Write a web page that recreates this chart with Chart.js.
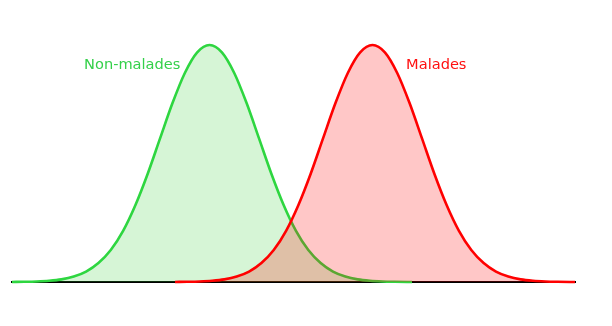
<!DOCTYPE html>
<html lang="fr">
<head>
<meta charset="utf-8">
<title>Non-malades / Malades</title>
<script src="https://cdn.jsdelivr.net/npm/chart.js"></script>
<style>
    html, body { margin: 0; padding: 0; background: #ffffff; }
    #wrap { width: 612px; height: 326px; }
</style>
</head>
<body>
<div id="wrap"><canvas id="courbes" width="612" height="326"></canvas></div>
<script>
// --- Données (échelle x arbitraire, hauteur relative au pic) ---
const seriesNames = ['Non-malades', 'Malades'];

const nonMaladesX = [0, 2.5, 5, 7.5, 10, 12.5, 15, 17.5, 20, 22.5, 25, 27.5, 30, 32.5, 35, 37.5,
    40, 42.5, 45, 47.5, 50, 52.5, 55, 57.5, 60, 62.5, 65, 67.5, 70, 72.5, 75, 77.5, 80, 81];
const nonMaladesY = [0.0003, 0.0009, 0.0022, 0.0051, 0.011, 0.023, 0.044, 0.080, 0.135, 0.216,
    0.325, 0.458, 0.607, 0.755, 0.882, 0.969, 1.0, 0.969, 0.882, 0.755, 0.607, 0.458, 0.325,
    0.216, 0.135, 0.080, 0.044, 0.023, 0.011, 0.0051, 0.0022, 0.0009, 0.0003, 0.0002];

const maladesX = [33, 35.5, 38, 40.5, 43, 45.5, 48, 50.5, 53, 55.5, 58, 60.5, 63, 65.5, 68, 70.5,
    73, 75.5, 78, 80.5, 83, 85.5, 88, 90.5, 93, 95.5, 98, 100.5, 103, 105.5, 108, 110.5, 113, 114];
const maladesY = [0.0003, 0.0009, 0.0022, 0.0051, 0.011, 0.023, 0.044, 0.080, 0.135, 0.216,
    0.325, 0.458, 0.607, 0.755, 0.882, 0.969, 1.0, 0.969, 0.882, 0.755, 0.607, 0.458, 0.325,
    0.216, 0.135, 0.080, 0.044, 0.023, 0.011, 0.0051, 0.0022, 0.0009, 0.0003, 0.0002];

// bornes de l'axe horizontal
const xMin = 0;
const xMax = 114;

function toPoints(xs, ys) {
    return xs.map((x, i) => ({ x: x, y: ys[i] }));
}

// Étiquettes écrites à côté de chaque courbe (ancrées en coordonnées de données)
const curveLabels = {
    id: 'curveLabels',
    afterDatasetsDraw(chart) {
        const ctx = chart.ctx;
        const xs = chart.scales.x;
        const ys = chart.scales.y;
        ctx.save();
        ctx.font = '14.6px "DejaVu Sans", sans-serif';
        ctx.textBaseline = 'middle';

        ctx.fillStyle = '#34d04a';
        ctx.textAlign = 'right';
        ctx.fillText(seriesNames[0], xs.getPixelForValue(34.1), ys.getPixelForValue(0.914));

        ctx.fillStyle = '#ff1010';
        ctx.textAlign = 'left';
        ctx.fillText(seriesNames[1], xs.getPixelForValue(79.8), ys.getPixelForValue(0.914));
        ctx.restore();
    }
};

const ctx = document.getElementById('courbes').getContext('2d');

new Chart(ctx, {
    type: 'line',
    data: {
        datasets: [
            {
                label: seriesNames[1],
                data: toPoints(maladesX, maladesY),
                borderColor: '#ff0000',
                backgroundColor: 'rgba(255, 0, 0, 0.22)',
                borderWidth: 2.6,
                fill: 'origin',
                order: 1 // dessinée par-dessus la verte
            },
            {
                label: seriesNames[0],
                data: toPoints(nonMaladesX, nonMaladesY),
                borderColor: '#2ed640',
                backgroundColor: 'rgba(50, 205, 50, 0.2)',
                borderWidth: 2.6,
                fill: 'origin',
                order: 2
            }
        ]
    },
    options: {
        responsive: false,
        animation: false,
        clip: false,
        layout: {
            padding: { left: 12, right: 37, top: 45, bottom: 44 }
        },
        elements: {
            point: { radius: 0 },
            line: { cubicInterpolationMode: 'monotone' }
        },
        plugins: {
            legend: { display: false },
            tooltip: { enabled: false }
        },
        scales: {
            x: {
                type: 'linear',
                min: xMin,
                max: xMax,
                grid: { display: false, drawTicks: false },
                ticks: { display: false },
                border: { display: true, color: '#000000', width: 2 }
            },
            y: {
                display: false,
                min: 0,
                max: 1
            }
        }
    },
    plugins: [curveLabels]
});
</script>
</body>
</html>
